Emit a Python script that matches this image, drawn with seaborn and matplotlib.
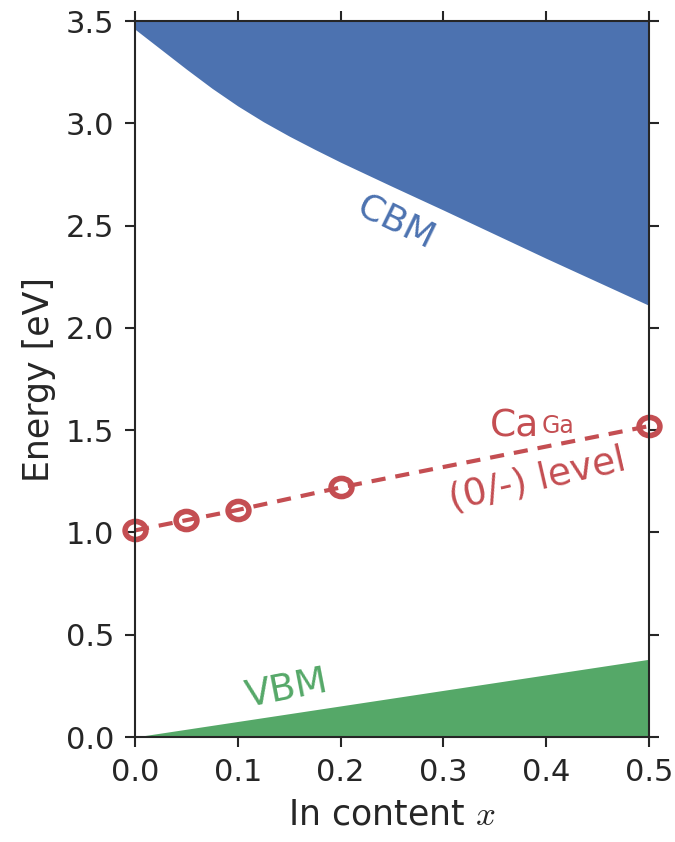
import matplotlib
matplotlib.use("Agg")
import matplotlib.pyplot as plt
import seaborn as sns
from matplotlib.path import Path
from matplotlib.transforms import Affine2D

# Band edges across In content (eV)
x_band = [0.0, 0.025, 0.05, 0.075, 0.1, 0.125, 0.15, 0.175, 0.2,
          0.25, 0.3, 0.35, 0.4, 0.45, 0.5]
cbm = [3.46, 3.3625, 3.265, 3.171, 3.085, 3.0075, 2.9375, 2.8725, 2.81,
       2.692, 2.576, 2.458, 2.34, 2.225, 2.11]
x_vbm = [0.0, 0.5]
vbm = [0.0, 0.38]

# Ca_Ga (0/-) transition level
x_level = [0.0, 0.05, 0.1, 0.2, 0.5]
level = [1.01, 1.06, 1.11, 1.22, 1.52]

x_ticks = [0.0, 0.1, 0.2, 0.3, 0.4, 0.5]
y_ticks = [0.0, 0.5, 1.0, 1.5, 2.0, 2.5, 3.0, 3.5]
x_lim = (0.0, 0.5)
y_lim = (0.0, 3.5)

BLUE, GREEN, RED = "#4C72B0", "#55A868", "#C44E52"
INK = "#262626"

sns.set_theme(style="ticks")
plt.rcParams["font.family"] = ["DejaVu Sans"]
plt.rcParams["mathtext.fontset"] = "cm"

fig, ax = plt.subplots(figsize=(6.75, 8.42), dpi=100)
fig.subplots_adjust(left=0.2, right=0.9615, bottom=0.1247, top=0.975)

# shaded conduction and valence bands
ax.fill_between(x_band, cbm, y_lim[1], color=BLUE, lw=0, zorder=1)
ax.fill_between(x_vbm, y_lim[0], vbm, color=GREEN, lw=0, zorder=1)

# defect level: dashed line with open, slightly wide ring markers
ring = Path.unit_circle().transformed(Affine2D().scale(1.15, 1.0))
sns.lineplot(x=x_level, y=level, ax=ax, color=RED, lw=3, linestyle="--",
             marker=ring, markersize=15, markeredgewidth=4,
             markeredgecolor=RED, markerfacecolor="none",
             zorder=3, clip_on=False)
ax.lines[-1].set_dashes((3.4, 2.4))

# annotations
ax.text(0.254, 2.517, "CBM", color=BLUE, fontsize=26, rotation=-26,
        ha="center", va="center", rotation_mode="anchor")
ax.text(0.148, 0.235, "VBM", color=GREEN, fontsize=27, rotation=11,
        ha="center", va="center", rotation_mode="anchor")
ax.text(0.393, 1.468, "Ca", color=RED, fontsize=27, ha="right", va="baseline")
ax.text(0.396, 1.486, "Ga", color=RED, fontsize=17, ha="left", va="baseline")
ax.text(0.3915, 1.256, "(0/-) level", color=RED, fontsize=27, rotation=13,
        ha="center", va="center", rotation_mode="anchor")

ax.set_xlim(x_lim)
ax.set_ylim(y_lim)
ax.set_xticks(x_ticks)
ax.set_yticks(y_ticks)
ax.tick_params(which="major", direction="out", length=7, width=1.5,
               colors=INK, labelsize=22, pad=8, top=True, right=True)
for s in ax.spines.values():
    s.set_visible(True)
    s.set_linewidth(1.5)
    s.set_color(INK)
    s.set_zorder(4)

ax.set_xlabel("In content $x$", fontsize=25, color=INK, labelpad=8)
ax.set_ylabel("Energy [eV]", fontsize=25, color=INK, labelpad=7)

fig.savefig("out.png", dpi=100)
